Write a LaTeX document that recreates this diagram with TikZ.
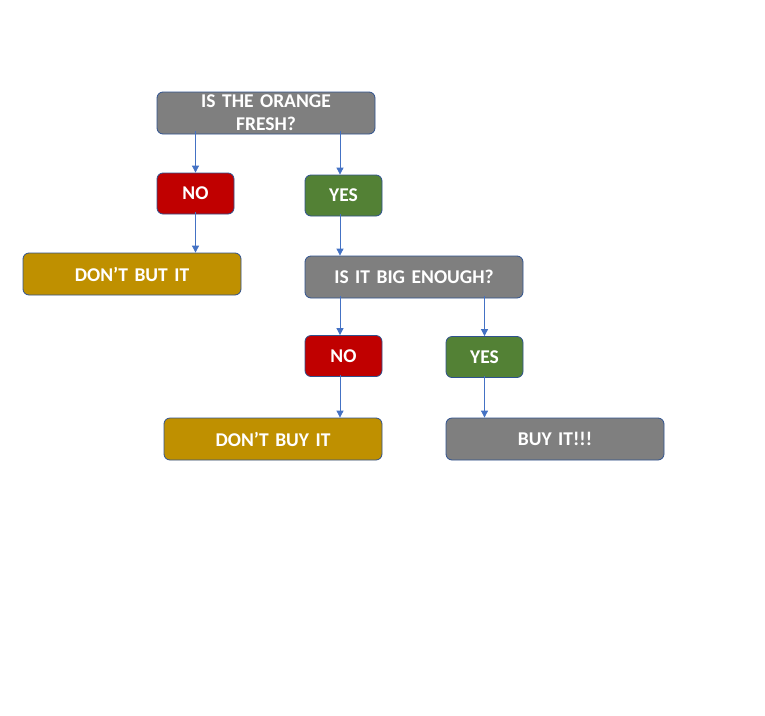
\documentclass[tikz,border=0pt]{standalone}
\usepackage{fontspec}
\setmainfont{Carlito}
\definecolor{boxgray}{HTML}{7F7F7F}
\definecolor{boxred}{HTML}{C00000}
\definecolor{boxgreen}{HTML}{538135}
\definecolor{boxgold}{HTML}{BF9000}
\definecolor{boxline}{HTML}{2F528F}
\definecolor{arrowblue}{HTML}{4472C4}
\usetikzlibrary{arrows.meta}
\begin{document}
\begin{tikzpicture}[x=1pt,y=-1pt,
  box/.style={draw=boxline,line width=0.8pt,rounded corners=6pt,text=white,
    font=\fontsize{19.5}{23}\selectfont\bfseries,align=center,inner sep=0pt},
  widebox/.style={box,minimum width=218pt,minimum height=42pt,text width=200pt},
  smallbox/.style={box,minimum width=77pt,minimum height=41pt},
  arr/.style={draw=arrowblue,line width=0.8pt,-{Triangle[length=7pt,width=7pt]}}]
\useasboundingbox (0,0) rectangle (765,715);
\node[widebox,fill=boxgray] (top) at (266,113) {IS THE ORANGE\\FRESH?};
\node[smallbox,fill=boxred] (no1) at (195.5,193.5) {NO};
\node[smallbox,fill=boxgreen] (yes1) at (343.5,195.5) {YES};
\node[widebox,fill=boxgold] (dont1) at (132,274) {DON’T BUT IT};
\node[widebox,fill=boxgray] (big) at (414,277) {IS IT BIG ENOUGH?};
\node[smallbox,fill=boxred] (no2) at (343.5,356) {NO};
\node[smallbox,fill=boxgreen] (yes2) at (484.5,357) {YES};
\node[widebox,fill=boxgold] (dont2) at (273,439) {DON’T BUY IT};
\node[widebox,fill=boxgray] (buy) at (555,439) {BUY IT!!!};
\coordinate (yes1n) at ([xshift=-3.5pt]yes1.north);
\coordinate (yes1s) at ([xshift=-3.5pt]yes1.south);
\coordinate (no2n) at ([xshift=-3.5pt]no2.north);
\coordinate (no2s) at ([xshift=-3.5pt]no2.south);
\draw[arr] ([yshift=3pt]top.south -| no1.north) -- (no1.north);
\draw[arr] ([yshift=3pt]top.south -| yes1n) -- (yes1n);
\draw[arr] ([yshift=2pt]no1.south) -- (no1.south |- dont1.north);
\draw[arr] ([yshift=2pt]yes1s) -- (yes1s |- big.north);
\draw[arr] ([yshift=2pt]big.south -| no2n) -- (no2n);
\draw[arr] ([yshift=2pt]big.south -| yes2.north) -- (yes2.north);
\draw[arr] ([yshift=2pt]no2s) -- (no2s |- dont2.north);
\draw[arr] ([yshift=2pt]yes2.south) -- (yes2.south |- buy.north);
\end{tikzpicture}
\end{document}
